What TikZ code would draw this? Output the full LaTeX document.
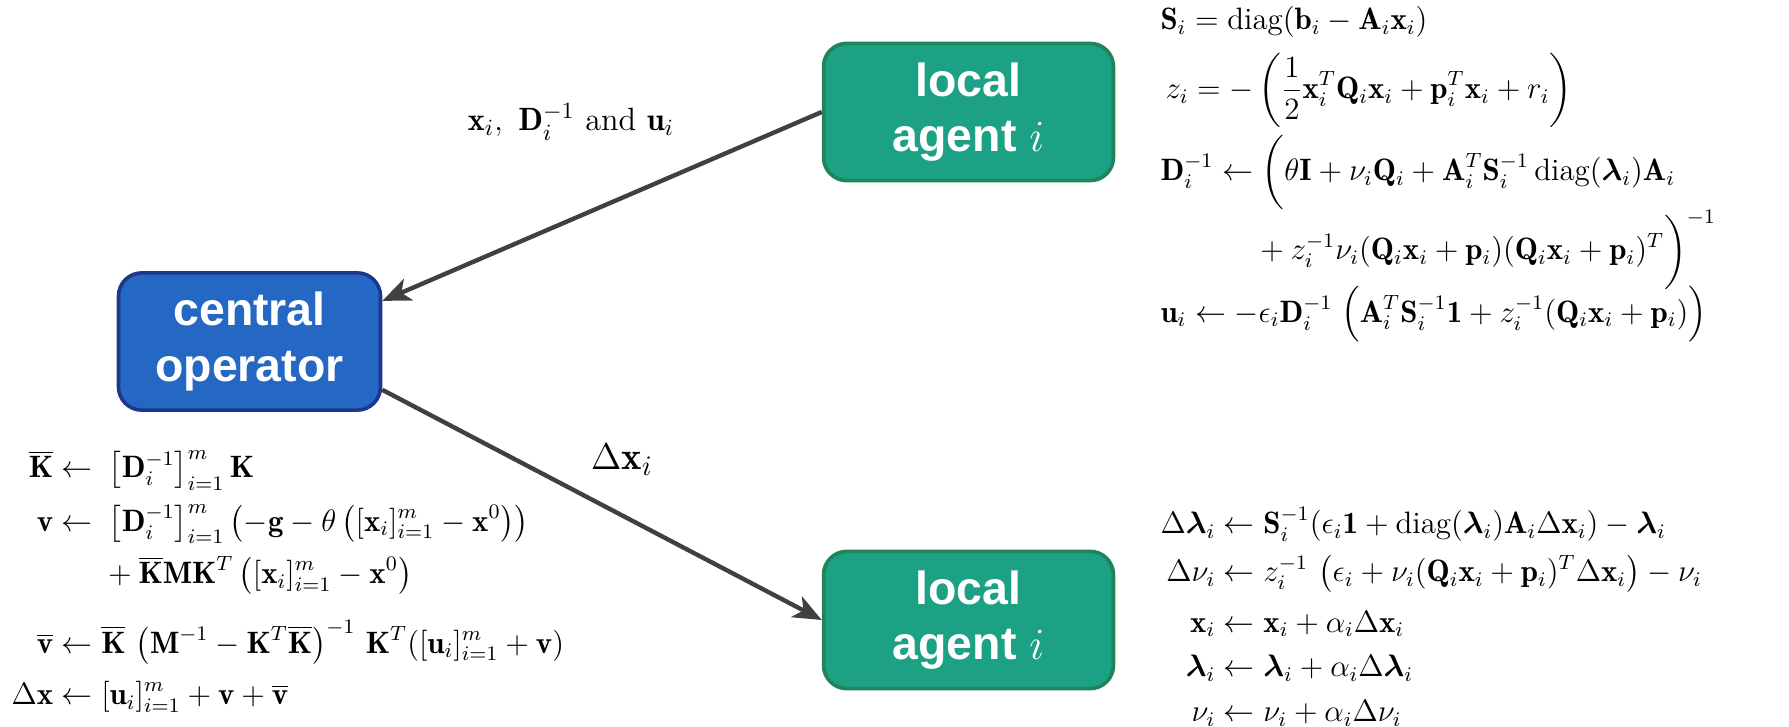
\documentclass[tikz,border=0pt]{standalone}
\usepackage{amsmath}
\usepackage{amssymb}
\usepackage{bm}
\usepackage{fontspec}
\newfontfamily\boxfont{Liberation Sans}
\usetikzlibrary{
	arrows.meta,
	positioning
}
\definecolor{AgentGreen}{RGB}{29,161,132}
\definecolor{AgentEdge}{RGB}{30,132,90}
\definecolor{CentralBlue}{RGB}{36,104,196}
\definecolor{CentralEdge}{RGB}{30,55,140}
\definecolor{ArrowGray}{RGB}{64,64,64}
\tikzset{
	agentbox/.style={draw=AgentEdge, fill=AgentGreen, line width=1.4pt, rounded corners=9pt,
		minimum width=3.95cm, minimum height=1.87cm, align=center, text=white,
		font=\boxfont\bfseries\fontsize{18}{21.5}\selectfont},
	centralbox/.style={agentbox, draw=CentralEdge, fill=CentralBlue, minimum width=3.57cm},
	flow/.style={-{Stealth[length=11pt,width=9pt,inset=3pt]}, line width=1.7pt, ArrowGray},
	eqblock/.style={anchor=north west, inner sep=0pt, align=left, font=\fontsize{12}{14.4}\selectfont},
	msglabel/.style={inner sep=0pt}
}

\begin{document}
\begin{tikzpicture}[x=0.01362cm, y=-0.01362cm]
			\useasboundingbox (0,0) rectangle (1789,727);
			\node[centralbox] (central) at (249.5,341.5) {central\\operator};
			\node[agentbox] (agtop) at (968.5,112) {local\\agent $i$};
			\node[agentbox] (agbot) at (968.5,620) {local\\agent $i$};
			\draw[flow] (agtop.west) -- (central.17);
			\draw[flow] (central.-20) -- (agbot.west);
			\node[msglabel, font=\fontsize{12.5}{15}\selectfont] (upmsg) at (571,122) {$\mathbf{x}_i,\ \mathbf{D}_i^{-1}$ and $\mathbf{u}_i$};
			\node[msglabel, font=\fontsize{15}{18}\selectfont] (downmsg) at (622,460) {$\Delta\mathbf{x}_i$};
			\node[eqblock] (agenteqs) at (1160,3) {$\begin{aligned}
				&\mathbf{S}_i=\operatorname{diag}(\mathbf{b}_i-\mathbf{A}_i\mathbf{x}_i)\\[1pt]
				&\,z_i=-\left(\frac{1}{2}\mathbf{x}_i^T\mathbf{Q}_i\mathbf{x}_i+\mathbf{p}_i^T\mathbf{x}_i+r_i\right)\\[-1pt]
				&\mathbf{D}_i^{-1}\leftarrow\biggl(\theta\mathbf{I}+\nu_i\mathbf{Q}_i+\mathbf{A}_i^T\mathbf{S}_i^{-1}\operatorname{diag}(\bm{\lambda}_i)\mathbf{A}_i\\[-4pt]
				&\hspace{36pt}{}+z_i^{-1}\nu_i(\mathbf{Q}_i\mathbf{x}_i+\mathbf{p}_i)(\mathbf{Q}_i\mathbf{x}_i+\mathbf{p}_i)^T\biggr)^{-1}\\[-5pt]
				&\mathbf{u}_i\leftarrow-\epsilon_i\mathbf{D}_i^{-1}\;\Bigl(\mathbf{A}_i^T\mathbf{S}_i^{-1}\mathbf{1}+z_i^{-1}(\mathbf{Q}_i\mathbf{x}_i+\mathbf{p}_i)\Bigr)
			\end{aligned}$};
			\node[eqblock] (centraleqs) at (11,450) {$\begin{aligned}
				\overline{\mathbf{K}}&\leftarrow\hspace{3pt}\left[\mathbf{D}_i^{-1}\right]_{i=1}^m\mathbf{K}\\[1.5pt]
				\mathbf{v}&\leftarrow\hspace{3pt}\left[\mathbf{D}_i^{-1}\right]_{i=1}^m\left(-\mathbf{g}-\theta\left([\mathbf{x}_i]_{i=1}^m-\mathbf{x}^0\right)\right)\\[1pt]
				&\hphantom{{}\leftarrow{}}{}+\overline{\mathbf{K}}\mathbf{M}\mathbf{K}^T\left([\mathbf{x}_i]_{i=1}^m-\mathbf{x}^0\right)\\[6pt]
				\overline{\mathbf{v}}&\leftarrow\overline{\mathbf{K}}\,\left(\mathbf{M}^{-1}-\mathbf{K}^T\overline{\mathbf{K}}\right)^{-1}\,\mathbf{K}^T([\mathbf{u}_i]_{i=1}^m+\mathbf{v})\\[2.5pt]
				\Delta\mathbf{x}&\leftarrow[\mathbf{u}_i]_{i=1}^m+\mathbf{v}+\overline{\mathbf{v}}
			\end{aligned}$};
			\node[eqblock] (updateeqs) at (1160,507) {$\begin{aligned}
				\Delta\bm{\lambda}_i&\leftarrow\mathbf{S}_i^{-1}(\epsilon_i\mathbf{1}+\operatorname{diag}(\bm{\lambda}_i)\mathbf{A}_i\Delta\mathbf{x}_i)-\bm{\lambda}_i\\
				\Delta\nu_i&\leftarrow z_i^{-1}\,\left(\epsilon_i+\nu_i(\mathbf{Q}_i\mathbf{x}_i+\mathbf{p}_i)^T\Delta\mathbf{x}_i\right)-\nu_i\\[2pt]
				\mathbf{x}_i&\leftarrow\mathbf{x}_i+\alpha_i\Delta\mathbf{x}_i\\
				\bm{\lambda}_i&\leftarrow\bm{\lambda}_i+\alpha_i\Delta\bm{\lambda}_i\\
				\nu_i&\leftarrow\nu_i+\alpha_i\Delta\nu_i
			\end{aligned}$};
		\end{tikzpicture}
\end{document}
